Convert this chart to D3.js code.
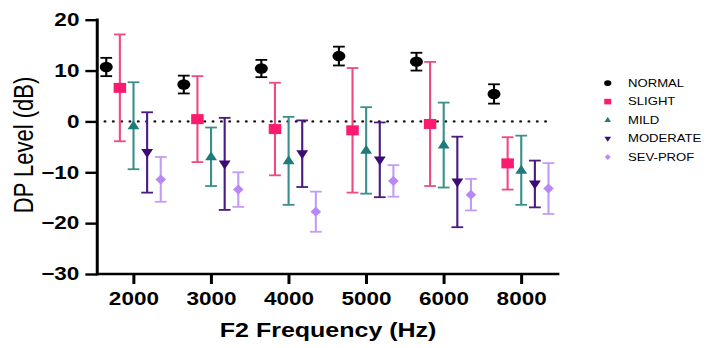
<!DOCTYPE html>
<html>
<head>
<meta charset="utf-8">
<script src="https://cdn.jsdelivr.net/npm/d3@7/dist/d3.min.js"></script>
<style>
  html, body { margin: 0; padding: 0; background: #fff; }
  svg { display: block; }
  text { font-family: "Liberation Sans", Arial, sans-serif; }
</style>
</head>
<body>
<svg id="chart"></svg>
<script>
// DP levels (mean ± SD) by F2 frequency and hearing-loss group
const categories = ["2000", "3000", "4000", "5000", "6000", "8000"];
const seriesNames = ["NORMAL", "SLIGHT", "MILD", "MODERATE", "SEV-PROF"];

const normalMean   = [10.7, 7.25, 10.4, 12.85, 11.75, 5.4];
const normalSD     = [1.8, 1.75, 1.7, 1.85, 1.75, 1.9];
const slightMean   = [6.6, 0.45, -1.5, -1.75, -0.5, -8.25];
const slightSD     = [10.5, 8.45, 9.1, 12.25, 12.2, 5.15];
const mildMean     = [-0.85, -6.95, -7.75, -5.7, -4.65, -9.6];
const mildSD       = [8.55, 5.75, 8.65, 8.5, 8.35, 6.8];
const moderateMean = [-6.1, -8.35, -6.35, -7.55, -11.9, -12.3];
const moderateSD   = [7.9, 9.05, 6.55, 7.35, 8.9, 4.6];
const sevProfMean  = [-11.4, -13.4, -17.75, -11.7, -14.4, -13.2];
const sevProfSD    = [4.4, 3.4, 3.95, 3.1, 3.1, 5.0];

const yTicks = [-30, -20, -10, 0, 10, 20];

const series = [
  { name: "NORMAL",   mean: normalMean,   sd: normalSD,   shape: "circle",   fill: "#000000", bar: "#000000" },
  { name: "SLIGHT",   mean: slightMean,   sd: slightSD,   shape: "square",   fill: "#fa1a6e", bar: "#f04a84" },
  { name: "MILD",     mean: mildMean,     sd: mildSD,     shape: "triUp",    fill: "#1e7c78", bar: "#3b8f8b" },
  { name: "MODERATE", mean: moderateMean, sd: moderateSD, shape: "triDown",  fill: "#3c0b76", bar: "#4a1c82" },
  { name: "SEV-PROF", mean: sevProfMean,  sd: sevProfSD,  shape: "diamond",  fill: "#b888f6", bar: "#c39cf6" }
];

// The drawing is laid out on a narrower canvas and stretched to the window width.
const W = 708, H = 348, sx = 1.25, VW = W / sx;
const svg = d3.select("#chart")
  .attr("width", W).attr("height", H)
  .attr("viewBox", `0 0 ${VW} ${H}`)
  .attr("preserveAspectRatio", "none");

const axisX = 77.8, axisEndX = 447.5;
const y = d3.scaleLinear().domain([-30, 20]).range([274, 19.7]);
const x = d3.scalePoint().domain(categories).range([106.6, 416.8]);
const dx = d3.scalePoint().domain(seriesNames).range([-21.6, 22]);

// zero reference line
svg.append("line")
  .attr("x1", 84).attr("x2", 440)
  .attr("y1", y(0)).attr("y2", y(0))
  .attr("stroke", "#111").attr("stroke-width", 2.4)
  .attr("stroke-linecap", "round")
  .attr("stroke-dasharray", "0 6.65");

// marker shapes
function shapePath(shape, s) {
  const p = d3.path();
  if (shape === "circle") {
    p.arc(0, 0, s * 0.52, 0, 2 * Math.PI);
  } else if (shape === "square") {
    p.rect(-s / 2, -s / 2, s, s);
  } else if (shape === "triUp") {
    const w = s * 0.95, h = s * 0.9;
    p.moveTo(0, -h * 0.62); p.lineTo(w / 2, h * 0.38); p.lineTo(-w / 2, h * 0.38); p.closePath();
  } else if (shape === "triDown") {
    const w = s * 0.95, h = s * 0.9;
    p.moveTo(0, h * 0.62); p.lineTo(w / 2, -h * 0.38); p.lineTo(-w / 2, -h * 0.38); p.closePath();
  } else if (shape === "diamond") {
    const w = s * 0.85, h = s;
    p.moveTo(0, -h / 2); p.lineTo(w / 2, 0); p.lineTo(0, h / 2); p.lineTo(-w / 2, 0); p.closePath();
  }
  return p.toString();
}

const capHalf = 4.7;
series.forEach(s => {
  const g = svg.append("g");
  const pts = categories.map((c, i) => ({ cx: x(c) + dx(s.name), m: s.mean[i], sd: s.sd[i] }));
  const eb = g.selectAll(".eb").data(pts).enter().append("g");
  eb.append("line")
    .attr("x1", d => d.cx).attr("x2", d => d.cx)
    .attr("y1", d => y(d.m + d.sd)).attr("y2", d => y(d.m - d.sd))
    .attr("stroke", s.bar).attr("stroke-width", 1.7);
  [1, -1].forEach(sign => {
    eb.append("line")
      .attr("x1", d => d.cx - capHalf).attr("x2", d => d.cx + capHalf)
      .attr("y1", d => y(d.m + sign * d.sd)).attr("y2", d => y(d.m + sign * d.sd))
      .attr("stroke", s.bar).attr("stroke-width", 1.8);
  });
  g.selectAll(".mk").data(pts).enter().append("path")
    .attr("d", shapePath(s.shape, 10))
    .attr("transform", d => `translate(${d.cx},${y(d.m)})`)
    .attr("fill", s.fill);
});

// axes
const yAxis = d3.axisLeft(y).tickValues(yTicks).tickSize(9.5).tickPadding(4.8).tickSizeOuter(0);
const gy = svg.append("g").attr("transform", `translate(${axisX},0)`).call(yAxis);
gy.select(".domain").remove();
gy.selectAll(".tick line").attr("stroke", "#000").attr("stroke-width", 2.4);
gy.selectAll(".tick text")
  .attr("font-family", "'Liberation Sans', Arial, sans-serif")
  .attr("font-size", 18).attr("font-weight", "bold").attr("fill", "#000");

const xAxis = d3.axisBottom(x).tickSize(10).tickPadding(8.2).tickSizeOuter(0);
const gx = svg.append("g").attr("transform", `translate(0,${y(-30)})`).call(xAxis);
gx.select(".domain").remove();
gx.selectAll(".tick line").attr("stroke", "#000").attr("stroke-width", 2.4);
gx.selectAll(".tick text")
  .attr("font-family", "'Liberation Sans', Arial, sans-serif")
  .attr("font-size", 18).attr("font-weight", "bold").attr("fill", "#000");

// axis lines
svg.append("line")
  .attr("x1", axisX).attr("x2", axisX)
  .attr("y1", y(20) - 1.2).attr("y2", y(-30) + 1.2)
  .attr("stroke", "#000").attr("stroke-width", 2.4);
svg.append("line")
  .attr("x1", axisX - 1).attr("x2", axisEndX)
  .attr("y1", y(-30)).attr("y2", y(-30))
  .attr("stroke", "#000").attr("stroke-width", 2.6);

// axis titles
svg.append("text")
  .attr("transform", "translate(26.4,145) rotate(-90)")
  .attr("text-anchor", "middle")
  .attr("font-size", 22).attr("fill", "#000")
  .text("DP Level (dB)");
svg.append("text")
  .attr("x", 262.5).attr("y", 337.3)
  .attr("text-anchor", "middle")
  .attr("font-size", 20).attr("font-weight", "bold").attr("fill", "#000")
  .text("F2 Frequency (Hz)");

// legend
const legend = svg.append("g");
series.forEach((s, i) => {
  const by = 86.7 + 18.5 * i;
  legend.append("path")
    .attr("d", shapePath(s.shape, 5.6))
    .attr("transform", `translate(486.2,${by - 3.6})`)
    .attr("fill", s.fill);
  legend.append("text")
    .attr("x", 502.4).attr("y", by)
    .attr("font-size", 10.5).attr("fill", "#000")
    .text(s.name);
});
</script>
</body>
</html>
